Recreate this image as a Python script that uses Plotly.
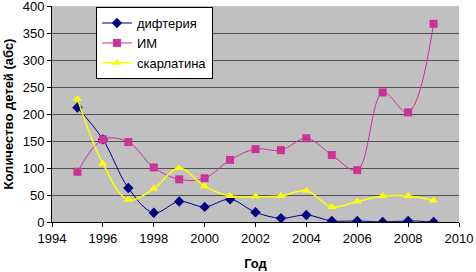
import plotly.graph_objects as go

years = [1995, 1996, 1997, 1998, 1999, 2000, 2001, 2002, 2003, 2004, 2005, 2006, 2007, 2008, 2009]
diphtheria = [212, 153, 63, 17, 38, 28, 42, 18, 7, 13, 2, 2, 0, 2, 0]
im = [93, 153, 148, 101, 79, 81, 115, 135, 133, 155, 124, 96, 240, 203, 367]
scarlatina = [228, 108, 41, 62, 100, 66, 48, 47, 48, 58, 28, 38, 48, 48, 40]

x_ticks = [1994, 1996, 1998, 2000, 2002, 2004, 2006, 2008, 2010]
y_ticks = [0, 50, 100, 150, 200, 250, 300, 350, 400]

fig = go.Figure()
fig.add_trace(go.Scatter(x=years, y=diphtheria, name="дифтерия", mode="lines+markers",
                         line=dict(color="#000080", width=1, shape="spline", smoothing=1),
                         marker=dict(symbol="diamond", size=8, color="#000080")))
fig.add_trace(go.Scatter(x=years, y=im, name="ИМ", mode="lines+markers",
                         line=dict(color="#CC3399", width=1, shape="spline", smoothing=1),
                         marker=dict(symbol="square", size=8, color="#CC3399")))
fig.add_trace(go.Scatter(x=years, y=scarlatina, name="скарлатина", mode="lines+markers",
                         line=dict(color="#FFFF00", width=1.5, shape="spline", smoothing=1),
                         marker=dict(symbol="triangle-up", size=8, color="#FFFF00")))

fig.update_layout(
    width=476, height=272,
    margin=dict(l=52, r=17, t=6, b=50),
    paper_bgcolor="white", plot_bgcolor="#C0C0C0",
    font=dict(family="Liberation Sans, Arial, sans-serif", size=13, color="black"),
    showlegend=True,
    legend=dict(x=0.108, y=0.995, xanchor="left", yanchor="top",
                bgcolor="white", bordercolor="black", borderwidth=1,
                font=dict(size=13), tracegroupgap=0),
    xaxis=dict(range=[1994, 2010], tickvals=x_ticks, showgrid=False, zeroline=False,
               showline=True, linecolor="black", ticks="outside", ticklen=4, tickcolor="black",
               automargin=False, ticklabeloverflow="allow",
               title=dict(text="<b>Год</b>", font=dict(size=13), standoff=14)),
    yaxis=dict(range=[0, 400], tickvals=y_ticks, showgrid=True, gridcolor="#505050", gridwidth=1,
               zeroline=False, showline=True, linecolor="black", ticks="outside", ticklen=4,
               tickcolor="black", automargin=False, ticklabeloverflow="allow",
               title=dict(text="<b>Количество детей (абс)</b>", font=dict(size=13), standoff=6)),
)

fig.write_html("out.html", config={"displayModeBar": False},
               post_script="document.body.style.margin='0';")
